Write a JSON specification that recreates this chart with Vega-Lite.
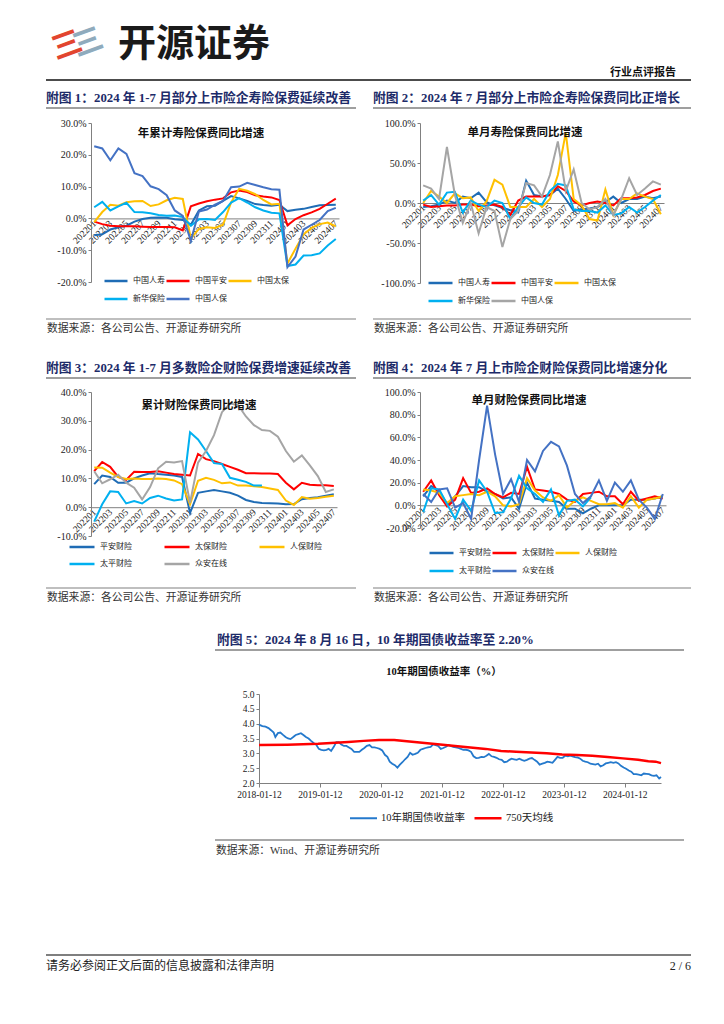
{
"$schema": "https://vega.github.io/schema/vega-lite/v6.json",
"padding": {"left": 45, "top": 20, "right": 0, "bottom": 0},
"background": "white",
"columns": 2,
"spacing": {"row": 0, "column": 81},
"align": "each",
"bounds": "flush",
"resolve": {"scale": {"color": "independent", "strokeWidth": "independent", "x": "independent", "y": "independent"}, "legend": {"color": "independent", "strokeWidth": "independent"}},
"config": {"view": {"stroke": null}, "axis": {"grid": false}},
"datasets": {
"life_cum": [
{"month":"202201","company":"中国人寿","value":-5.3},{"month":"202202","company":"中国人寿","value":-5.0},{"month":"202203","company":"中国人寿","value":-3.5},{"month":"202204","company":"中国人寿","value":-2.8},{"month":"202205","company":"中国人寿","value":-2.3},{"month":"202206","company":"中国人寿","value":-1.0},{"month":"202207","company":"中国人寿","value":-0.2},{"month":"202208","company":"中国人寿","value":0.2},{"month":"202209","company":"中国人寿","value":0.3},{"month":"202210","company":"中国人寿","value":0.2},{"month":"202211","company":"中国人寿","value":-0.3},{"month":"202212","company":"中国人寿","value":-0.5},{"month":"202301","company":"中国人寿","value":-2.0},{"month":"202302","company":"中国人寿","value":2.5},{"month":"202303","company":"中国人寿","value":3.8},{"month":"202304","company":"中国人寿","value":4.0},{"month":"202305","company":"中国人寿","value":5.5},{"month":"202306","company":"中国人寿","value":7.0},{"month":"202307","company":"中国人寿","value":6.3},{"month":"202308","company":"中国人寿","value":5.5},{"month":"202309","company":"中国人寿","value":4.5},{"month":"202310","company":"中国人寿","value":4.2},{"month":"202311","company":"中国人寿","value":4.0},{"month":"202312","company":"中国人寿","value":4.3},{"month":"202401","company":"中国人寿","value":2.3},{"month":"202402","company":"中国人寿","value":2.7},{"month":"202403","company":"中国人寿","value":3.0},{"month":"202404","company":"中国人寿","value":3.6},{"month":"202405","company":"中国人寿","value":4.1},{"month":"202406","company":"中国人寿","value":4.2},{"month":"202407","company":"中国人寿","value":4.3},
{"month":"202201","company":"中国平安","value":-1.0},{"month":"202202","company":"中国平安","value":-1.8},{"month":"202203","company":"中国平安","value":-2.3},{"month":"202204","company":"中国平安","value":-2.5},{"month":"202205","company":"中国平安","value":-2.5},{"month":"202206","company":"中国平安","value":-2.5},{"month":"202207","company":"中国平安","value":-2.6},{"month":"202208","company":"中国平安","value":-2.7},{"month":"202209","company":"中国平安","value":-2.7},{"month":"202210","company":"中国平安","value":-2.7},{"month":"202211","company":"中国平安","value":-2.8},{"month":"202212","company":"中国平安","value":-3.8},{"month":"202301","company":"中国平安","value":3.8},{"month":"202302","company":"中国平安","value":4.7},{"month":"202303","company":"中国平安","value":5.4},{"month":"202304","company":"中国平安","value":5.9},{"month":"202305","company":"中国平安","value":6.3},{"month":"202306","company":"中国平安","value":8.2},{"month":"202307","company":"中国平安","value":8.8},{"month":"202308","company":"中国平安","value":8.3},{"month":"202309","company":"中国平安","value":7.3},{"month":"202310","company":"中国平安","value":6.9},{"month":"202311","company":"中国平安","value":6.6},{"month":"202312","company":"中国平安","value":5.8},{"month":"202401","company":"中国平安","value":-2.2},{"month":"202402","company":"中国平安","value":-0.2},{"month":"202403","company":"中国平安","value":1.0},{"month":"202404","company":"中国平安","value":1.9},{"month":"202405","company":"中国平安","value":3.0},{"month":"202406","company":"中国平安","value":4.6},{"month":"202407","company":"中国平安","value":6.2},
{"month":"202201","company":"中国太保","value":-1.2},{"month":"202202","company":"中国太保","value":2.0},{"month":"202203","company":"中国太保","value":4.3},{"month":"202204","company":"中国太保","value":4.0},{"month":"202205","company":"中国太保","value":5.1},{"month":"202206","company":"中国太保","value":5.4},{"month":"202207","company":"中国太保","value":5.5},{"month":"202208","company":"中国太保","value":3.9},{"month":"202209","company":"中国太保","value":4.4},{"month":"202210","company":"中国太保","value":5.7},{"month":"202211","company":"中国太保","value":6.5},{"month":"202212","company":"中国太保","value":6.1},{"month":"202301","company":"中国太保","value":-6.3},{"month":"202302","company":"中国太保","value":-3.3},{"month":"202303","company":"中国太保","value":-2.8},{"month":"202304","company":"中国太保","value":-3.0},{"month":"202305","company":"中国太保","value":-2.0},{"month":"202306","company":"中国太保","value":5.0},{"month":"202307","company":"中国太保","value":9.3},{"month":"202308","company":"中国太保","value":8.7},{"month":"202309","company":"中国太保","value":7.6},{"month":"202310","company":"中国太保","value":5.8},{"month":"202311","company":"中国太保","value":4.4},{"month":"202312","company":"中国太保","value":4.6},{"month":"202401","company":"中国太保","value":-14.2},{"month":"202402","company":"中国太保","value":-9.5},{"month":"202403","company":"中国太保","value":-5.0},{"month":"202404","company":"中国太保","value":-3.0},{"month":"202405","company":"中国太保","value":-1.8},{"month":"202406","company":"中国太保","value":-1.3},{"month":"202407","company":"中国太保","value":-2.5},
{"month":"202201","company":"新华保险","value":3.5},{"month":"202202","company":"新华保险","value":5.2},{"month":"202203","company":"新华保险","value":2.5},{"month":"202204","company":"新华保险","value":3.8},{"month":"202205","company":"新华保险","value":4.9},{"month":"202206","company":"新华保险","value":2.0},{"month":"202207","company":"新华保险","value":1.9},{"month":"202208","company":"新华保险","value":1.6},{"month":"202209","company":"新华保险","value":1.1},{"month":"202210","company":"新华保险","value":0.8},{"month":"202211","company":"新华保险","value":0.9},{"month":"202212","company":"新华保险","value":0.4},{"month":"202301","company":"新华保险","value":-2.3},{"month":"202302","company":"新华保险","value":-0.3},{"month":"202303","company":"新华保险","value":-0.2},{"month":"202304","company":"新华保险","value":-0.5},{"month":"202305","company":"新华保险","value":2.0},{"month":"202306","company":"新华保险","value":5.0},{"month":"202307","company":"新华保险","value":6.4},{"month":"202308","company":"新华保险","value":5.0},{"month":"202309","company":"新华保险","value":3.5},{"month":"202310","company":"新华保险","value":2.5},{"month":"202311","company":"新华保险","value":1.8},{"month":"202312","company":"新华保险","value":1.6},{"month":"202401","company":"新华保险","value":-15.0},{"month":"202402","company":"新华保险","value":-14.5},{"month":"202403","company":"新华保险","value":-11.7},{"month":"202404","company":"新华保险","value":-11.6},{"month":"202405","company":"新华保险","value":-11.0},{"month":"202406","company":"新华保险","value":-8.5},{"month":"202407","company":"新华保险","value":-6.5},
{"month":"202201","company":"中国人保","value":22.7},{"month":"202202","company":"中国人保","value":22.0},{"month":"202203","company":"中国人保","value":18.3},{"month":"202204","company":"中国人保","value":22.0},{"month":"202205","company":"中国人保","value":20.3},{"month":"202206","company":"中国人保","value":14.2},{"month":"202207","company":"中国人保","value":13.3},{"month":"202208","company":"中国人保","value":10.1},{"month":"202209","company":"中国人保","value":9.2},{"month":"202210","company":"中国人保","value":7.3},{"month":"202211","company":"中国人保","value":2.5},{"month":"202212","company":"中国人保","value":0.8},{"month":"202301","company":"中国人保","value":-7.0},{"month":"202302","company":"中国人保","value":2.2},{"month":"202303","company":"中国人保","value":2.8},{"month":"202304","company":"中国人保","value":4.3},{"month":"202305","company":"中国人保","value":5.5},{"month":"202306","company":"中国人保","value":9.8},{"month":"202307","company":"中国人保","value":10.0},{"month":"202308","company":"中国人保","value":11.2},{"month":"202309","company":"中国人保","value":10.5},{"month":"202310","company":"中国人保","value":9.8},{"month":"202311","company":"中国人保","value":9.2},{"month":"202312","company":"中国人保","value":9.0},{"month":"202401","company":"中国人保","value":-15.3},{"month":"202402","company":"中国人保","value":-12.0},{"month":"202403","company":"中国人保","value":-3.5},{"month":"202404","company":"中国人保","value":-2.0},{"month":"202405","company":"中国人保","value":-0.5},{"month":"202406","company":"中国人保","value":2.3},{"month":"202407","company":"中国人保","value":3.3}
],
"life_mon": [
{"month":"202201","company":"中国人寿","value":-5},{"month":"202202","company":"中国人寿","value":-4},{"month":"202203","company":"中国人寿","value":-2},{"month":"202204","company":"中国人寿","value":3},{"month":"202205","company":"中国人寿","value":0},{"month":"202206","company":"中国人寿","value":8},{"month":"202207","company":"中国人寿","value":6},{"month":"202208","company":"中国人寿","value":13},{"month":"202209","company":"中国人寿","value":1},{"month":"202210","company":"中国人寿","value":-3},{"month":"202211","company":"中国人寿","value":-6},{"month":"202212","company":"中国人寿","value":-9},{"month":"202301","company":"中国人寿","value":-12},{"month":"202302","company":"中国人寿","value":28},{"month":"202303","company":"中国人寿","value":10},{"month":"202304","company":"中国人寿","value":8},{"month":"202305","company":"中国人寿","value":10},{"month":"202306","company":"中国人寿","value":18},{"month":"202307","company":"中国人寿","value":5},{"month":"202308","company":"中国人寿","value":-10},{"month":"202309","company":"中国人寿","value":-8},{"month":"202310","company":"中国人寿","value":-7},{"month":"202311","company":"中国人寿","value":-5},{"month":"202312","company":"中国人寿","value":1},{"month":"202401","company":"中国人寿","value":8},{"month":"202402","company":"中国人寿","value":0},{"month":"202403","company":"中国人寿","value":5},{"month":"202404","company":"中国人寿","value":5},{"month":"202405","company":"中国人寿","value":8},{"month":"202406","company":"中国人寿","value":6},{"month":"202407","company":"中国人寿","value":8},
{"month":"202201","company":"中国平安","value":-2},{"month":"202202","company":"中国平安","value":-5},{"month":"202203","company":"中国平安","value":-4},{"month":"202204","company":"中国平安","value":-3},{"month":"202205","company":"中国平安","value":-3},{"month":"202206","company":"中国平安","value":-2},{"month":"202207","company":"中国平安","value":-2},{"month":"202208","company":"中国平安","value":-4},{"month":"202209","company":"中国平安","value":-3},{"month":"202210","company":"中国平安","value":-2},{"month":"202211","company":"中国平安","value":-5},{"month":"202212","company":"中国平安","value":-15},{"month":"202301","company":"中国平安","value":3},{"month":"202302","company":"中国平安","value":8},{"month":"202303","company":"中国平安","value":8},{"month":"202304","company":"中国平安","value":8},{"month":"202305","company":"中国平安","value":10},{"month":"202306","company":"中国平安","value":21},{"month":"202307","company":"中国平安","value":15},{"month":"202308","company":"中国平安","value":2},{"month":"202309","company":"中国平安","value":-3},{"month":"202310","company":"中国平安","value":0},{"month":"202311","company":"中国平安","value":2},{"month":"202312","company":"中国平安","value":0},{"month":"202401","company":"中国平安","value":-3},{"month":"202402","company":"中国平安","value":6},{"month":"202403","company":"中国平安","value":6},{"month":"202404","company":"中国平安","value":7},{"month":"202405","company":"中国平安","value":10},{"month":"202406","company":"中国平安","value":15},{"month":"202407","company":"中国平安","value":18},
{"month":"202201","company":"中国太保","value":0},{"month":"202202","company":"中国太保","value":15},{"month":"202203","company":"中国太保","value":8},{"month":"202204","company":"中国太保","value":0},{"month":"202205","company":"中国太保","value":12},{"month":"202206","company":"中国太保","value":6},{"month":"202207","company":"中国太保","value":7},{"month":"202208","company":"中国太保","value":-10},{"month":"202209","company":"中国太保","value":2},{"month":"202210","company":"中国太保","value":29},{"month":"202211","company":"中国太保","value":23},{"month":"202212","company":"中国太保","value":-5},{"month":"202301","company":"中国太保","value":-5},{"month":"202302","company":"中国太保","value":-5},{"month":"202303","company":"中国太保","value":5},{"month":"202304","company":"中国太保","value":-5},{"month":"202305","company":"中国太保","value":5},{"month":"202306","company":"中国太保","value":35},{"month":"202307","company":"中国太保","value":88},{"month":"202308","company":"中国太保","value":5},{"month":"202309","company":"中国太保","value":-3},{"month":"202310","company":"中国太保","value":-20},{"month":"202311","company":"中国太保","value":-22},{"month":"202312","company":"中国太保","value":17},{"month":"202401","company":"中国太保","value":-15},{"month":"202402","company":"中国太保","value":5},{"month":"202403","company":"中国太保","value":5},{"month":"202404","company":"中国太保","value":12},{"month":"202405","company":"中国太保","value":8},{"month":"202406","company":"中国太保","value":5},{"month":"202407","company":"中国太保","value":-14},
{"month":"202201","company":"新华保险","value":3},{"month":"202202","company":"新华保险","value":10},{"month":"202203","company":"新华保险","value":-2},{"month":"202204","company":"新华保险","value":13},{"month":"202205","company":"新华保险","value":14},{"month":"202206","company":"新华保险","value":-12},{"month":"202207","company":"新华保险","value":3},{"month":"202208","company":"新华保险","value":-2},{"month":"202209","company":"新华保险","value":-5},{"month":"202210","company":"新华保险","value":3},{"month":"202211","company":"新华保险","value":0},{"month":"202212","company":"新华保险","value":-20},{"month":"202301","company":"新华保险","value":-5},{"month":"202302","company":"新华保险","value":7},{"month":"202303","company":"新华保险","value":0},{"month":"202304","company":"新华保险","value":-2},{"month":"202305","company":"新华保险","value":15},{"month":"202306","company":"新华保险","value":24},{"month":"202307","company":"新华保险","value":22},{"month":"202308","company":"新华保险","value":-8},{"month":"202309","company":"新华保险","value":-10},{"month":"202310","company":"新华保险","value":-10},{"month":"202311","company":"新华保险","value":-12},{"month":"202312","company":"新华保险","value":-3},{"month":"202401","company":"新华保险","value":-15},{"month":"202402","company":"新华保险","value":-13},{"month":"202403","company":"新华保险","value":-5},{"month":"202404","company":"新华保险","value":-12},{"month":"202405","company":"新华保险","value":-5},{"month":"202406","company":"新华保险","value":3},{"month":"202407","company":"新华保险","value":10},
{"month":"202201","company":"中国人保","value":22},{"month":"202202","company":"中国人保","value":18},{"month":"202203","company":"中国人保","value":5},{"month":"202204","company":"中国人保","value":70},{"month":"202205","company":"中国人保","value":10},{"month":"202206","company":"中国人保","value":-25},{"month":"202207","company":"中国人保","value":0},{"month":"202208","company":"中国人保","value":-38},{"month":"202209","company":"中国人保","value":-5},{"month":"202210","company":"中国人保","value":-10},{"month":"202211","company":"中国人保","value":-55},{"month":"202212","company":"中国人保","value":-20},{"month":"202301","company":"中国人保","value":-10},{"month":"202302","company":"中国人保","value":25},{"month":"202303","company":"中国人保","value":22},{"month":"202304","company":"中国人保","value":8},{"month":"202305","company":"中国人保","value":35},{"month":"202306","company":"中国人保","value":77},{"month":"202307","company":"中国人保","value":15},{"month":"202308","company":"中国人保","value":42},{"month":"202309","company":"中国人保","value":0},{"month":"202310","company":"中国人保","value":-8},{"month":"202311","company":"中国人保","value":-5},{"month":"202312","company":"中国人保","value":5},{"month":"202401","company":"中国人保","value":-15},{"month":"202402","company":"中国人保","value":5},{"month":"202403","company":"中国人保","value":31},{"month":"202404","company":"中国人保","value":10},{"month":"202405","company":"中国人保","value":18},{"month":"202406","company":"中国人保","value":27},{"month":"202407","company":"中国人保","value":23}
],
"pc_cum": [
{"month":"202201","company":"平安财险","value":8},{"month":"202202","company":"平安财险","value":11},{"month":"202203","company":"平安财险","value":10.5},{"month":"202204","company":"平安财险","value":8.5},{"month":"202205","company":"平安财险","value":8.5},{"month":"202206","company":"平安财险","value":10},{"month":"202207","company":"平安财险","value":11},{"month":"202208","company":"平安财险","value":11.8},{"month":"202209","company":"平安财险","value":11.5},{"month":"202210","company":"平安财险","value":11.3},{"month":"202211","company":"平安财险","value":11},{"month":"202212","company":"平安财险","value":10.5},{"month":"202301","company":"平安财险","value":-2},{"month":"202302","company":"平安财险","value":5},{"month":"202303","company":"平安财险","value":5.5},{"month":"202304","company":"平安财险","value":6},{"month":"202305","company":"平安财险","value":5.5},{"month":"202306","company":"平安财险","value":5},{"month":"202307","company":"平安财险","value":4},{"month":"202308","company":"平安财险","value":2.5},{"month":"202309","company":"平安财险","value":1.8},{"month":"202310","company":"平安财险","value":1.5},{"month":"202311","company":"平安财险","value":1.4},{"month":"202312","company":"平安财险","value":1.3},{"month":"202401","company":"平安财险","value":1.0},{"month":"202402","company":"平安财险","value":1.1},{"month":"202403","company":"平安财险","value":2.8},{"month":"202404","company":"平安财险","value":3.2},{"month":"202405","company":"平安财险","value":3.5},{"month":"202406","company":"平安财险","value":4.0},{"month":"202407","company":"平安财险","value":4.5},
{"month":"202201","company":"太保财险","value":12.5},{"month":"202202","company":"太保财险","value":15.7},{"month":"202203","company":"太保财险","value":14},{"month":"202204","company":"太保财险","value":10.5},{"month":"202205","company":"太保财险","value":9.5},{"month":"202206","company":"太保财险","value":12.3},{"month":"202207","company":"太保财险","value":12.2},{"month":"202208","company":"太保财险","value":12.2},{"month":"202209","company":"太保财险","value":12.5},{"month":"202210","company":"太保财险","value":12},{"month":"202211","company":"太保财险","value":11.5},{"month":"202212","company":"太保财险","value":11.3},{"month":"202301","company":"太保财险","value":11.0},{"month":"202302","company":"太保财险","value":18.5},{"month":"202303","company":"太保财险","value":16.7},{"month":"202304","company":"太保财险","value":16},{"month":"202305","company":"太保财险","value":15},{"month":"202306","company":"太保财险","value":14},{"month":"202307","company":"太保财险","value":13},{"month":"202308","company":"太保财险","value":11.8},{"month":"202309","company":"太保财险","value":11.8},{"month":"202310","company":"太保财险","value":11.7},{"month":"202311","company":"太保财险","value":11.7},{"month":"202312","company":"太保财险","value":11.5},{"month":"202401","company":"太保财险","value":8.5},{"month":"202402","company":"太保财险","value":6.2},{"month":"202403","company":"太保财险","value":8.5},{"month":"202404","company":"太保财险","value":7.8},{"month":"202405","company":"太保财险","value":7.6},{"month":"202406","company":"太保财险","value":7.6},{"month":"202407","company":"太保财险","value":7.4},
{"month":"202201","company":"人保财险","value":13.8},{"month":"202202","company":"人保财险","value":13.7},{"month":"202203","company":"人保财险","value":12},{"month":"202204","company":"人保财险","value":10.5},{"month":"202205","company":"人保财险","value":9.8},{"month":"202206","company":"人保财险","value":10},{"month":"202207","company":"人保财险","value":9.8},{"month":"202208","company":"人保财险","value":9.8},{"month":"202209","company":"人保财险","value":10},{"month":"202210","company":"人保财险","value":9.8},{"month":"202211","company":"人保财险","value":9.3},{"month":"202212","company":"人保财险","value":8},{"month":"202301","company":"人保财险","value":1.0},{"month":"202302","company":"人保财险","value":9.2},{"month":"202303","company":"人保财险","value":10.2},{"month":"202304","company":"人保财险","value":9.5},{"month":"202305","company":"人保财险","value":8.3},{"month":"202306","company":"人保财险","value":8.6},{"month":"202307","company":"人保财险","value":7.5},{"month":"202308","company":"人保财险","value":7.5},{"month":"202309","company":"人保财险","value":7.3},{"month":"202310","company":"人保财险","value":7.0},{"month":"202311","company":"人保财险","value":6.5},{"month":"202312","company":"人保财险","value":6.0},{"month":"202401","company":"人保财险","value":2.3},{"month":"202402","company":"人保财险","value":0.8},{"month":"202403","company":"人保财险","value":3.5},{"month":"202404","company":"人保财险","value":2.9},{"month":"202405","company":"人保财险","value":3.2},{"month":"202406","company":"人保财险","value":3.6},{"month":"202407","company":"人保财险","value":4.0},
{"month":"202201","company":"太平财险","value":-5},{"month":"202202","company":"太平财险","value":1},{"month":"202203","company":"太平财险","value":5.5},{"month":"202204","company":"太平财险","value":5.3},{"month":"202205","company":"太平财险","value":1.3},{"month":"202206","company":"太平财险","value":2.1},{"month":"202207","company":"太平财险","value":1.3},{"month":"202208","company":"太平财险","value":3.2},{"month":"202209","company":"太平财险","value":4.0},{"month":"202210","company":"太平财险","value":3.0},{"month":"202211","company":"太平财险","value":2.3},{"month":"202212","company":"太平财险","value":2.7},{"month":"202301","company":"太平财险","value":26},{"month":"202302","company":"太平财险","value":23.5},{"month":"202303","company":"太平财险","value":19.5},{"month":"202304","company":"太平财险","value":15.3},{"month":"202305","company":"太平财险","value":15.0},{"month":"202306","company":"太平财险","value":10.2},{"month":"202307","company":"太平财险","value":9.5},{"month":"202308","company":"太平财险","value":8.8},{"month":"202309","company":"太平财险","value":7.5},{"month":"202310","company":"太平财险","value":7.5},
{"month":"202201","company":"众安在线","value":12.5},{"month":"202202","company":"众安在线","value":8.3},{"month":"202203","company":"众安在线","value":9.7},{"month":"202204","company":"众安在线","value":11.3},{"month":"202205","company":"众安在线","value":8.5},{"month":"202206","company":"众安在线","value":6.8},{"month":"202207","company":"众安在线","value":2.7},{"month":"202208","company":"众安在线","value":7},{"month":"202209","company":"众安在线","value":13.5},{"month":"202210","company":"众安在线","value":15.8},{"month":"202211","company":"众安在线","value":15.5},{"month":"202212","company":"众安在线","value":16},{"month":"202301","company":"众安在线","value":1.5},{"month":"202302","company":"众安在线","value":15.5},{"month":"202303","company":"众安在线","value":19.5},{"month":"202304","company":"众安在线","value":25},{"month":"202305","company":"众安在线","value":33},{"month":"202306","company":"众安在线","value":36},{"month":"202307","company":"众安在线","value":35.5},{"month":"202308","company":"众安在线","value":31.5},{"month":"202309","company":"众安在线","value":28.5},{"month":"202310","company":"众安在线","value":26.8},{"month":"202311","company":"众安在线","value":26.5},{"month":"202312","company":"众安在线","value":24.5},{"month":"202401","company":"众安在线","value":19.5},{"month":"202402","company":"众安在线","value":15.8},{"month":"202403","company":"众安在线","value":18},{"month":"202404","company":"众安在线","value":14.5},{"month":"202405","company":"众安在线","value":10.8},{"month":"202406","company":"众安在线","value":5.3},{"month":"202407","company":"众安在线","value":6.2}
],
"pc_mon": [
{"month":"202201","company":"平安财险","value":8},{"month":"202202","company":"平安财险","value":17},{"month":"202203","company":"平安财险","value":13},{"month":"202204","company":"平安财险","value":0},{"month":"202205","company":"平安财险","value":8},{"month":"202206","company":"平安财险","value":17},{"month":"202207","company":"平安财险","value":16},{"month":"202208","company":"平安财险","value":16},{"month":"202209","company":"平安财险","value":12},{"month":"202210","company":"平安财险","value":10},{"month":"202211","company":"平安财险","value":6},{"month":"202212","company":"平安财险","value":7},{"month":"202301","company":"平安财险","value":-3},{"month":"202302","company":"平安财险","value":20},{"month":"202303","company":"平安财险","value":6},{"month":"202304","company":"平安财险","value":5},{"month":"202305","company":"平安财险","value":4},{"month":"202306","company":"平安财险","value":3},{"month":"202307","company":"平安财险","value":-3},{"month":"202308","company":"平安财险","value":-3},{"month":"202309","company":"平安财险","value":-7},{"month":"202310","company":"平安财险","value":-3},{"month":"202311","company":"平安财险","value":0},{"month":"202312","company":"平安财险","value":0},{"month":"202401","company":"平安财险","value":0},{"month":"202402","company":"平安财险","value":0},{"month":"202403","company":"平安财险","value":5},{"month":"202404","company":"平安财险","value":5},{"month":"202405","company":"平安财险","value":5},{"month":"202406","company":"平安财险","value":6},{"month":"202407","company":"平安财险","value":8},
{"month":"202201","company":"太保财险","value":12},{"month":"202202","company":"太保财险","value":22},{"month":"202203","company":"太保财险","value":9},{"month":"202204","company":"太保财险","value":-1},{"month":"202205","company":"太保财险","value":5},{"month":"202206","company":"太保财险","value":24},{"month":"202207","company":"太保财险","value":11},{"month":"202208","company":"太保财险","value":12},{"month":"202209","company":"太保财险","value":15},{"month":"202210","company":"太保财险","value":10},{"month":"202211","company":"太保财险","value":7},{"month":"202212","company":"太保财险","value":11},{"month":"202301","company":"太保财险","value":10},{"month":"202302","company":"太保财险","value":34},{"month":"202303","company":"太保财险","value":14},{"month":"202304","company":"太保财险","value":13},{"month":"202305","company":"太保财险","value":12},{"month":"202306","company":"太保财险","value":10},{"month":"202307","company":"太保财险","value":5},{"month":"202308","company":"太保财险","value":3},{"month":"202309","company":"太保财险","value":10},{"month":"202310","company":"太保财险","value":11},{"month":"202311","company":"太保财险","value":12},{"month":"202312","company":"太保财险","value":8},{"month":"202401","company":"太保财险","value":8},{"month":"202402","company":"太保财险","value":1},{"month":"202403","company":"太保财险","value":12},{"month":"202404","company":"太保财险","value":4},{"month":"202405","company":"太保财险","value":6},{"month":"202406","company":"太保财险","value":8},{"month":"202407","company":"太保财险","value":6},
{"month":"202201","company":"人保财险","value":14},{"month":"202202","company":"人保财险","value":13},{"month":"202203","company":"人保财险","value":11},{"month":"202204","company":"人保财险","value":2},{"month":"202205","company":"人保财险","value":8},{"month":"202206","company":"人保财险","value":9},{"month":"202207","company":"人保财险","value":10},{"month":"202208","company":"人保财险","value":9},{"month":"202209","company":"人保财险","value":12},{"month":"202210","company":"人保财险","value":8},{"month":"202211","company":"人保财险","value":0},{"month":"202212","company":"人保财险","value":-1},{"month":"202301","company":"人保财险","value":1},{"month":"202302","company":"人保财险","value":24},{"month":"202303","company":"人保财险","value":13},{"month":"202304","company":"人保财险","value":7},{"month":"202305","company":"人保财险","value":4},{"month":"202306","company":"人保财险","value":9},{"month":"202307","company":"人保财险","value":-2},{"month":"202308","company":"人保财险","value":4},{"month":"202309","company":"人保财险","value":7},{"month":"202310","company":"人保财险","value":4},{"month":"202311","company":"人保财险","value":1},{"month":"202312","company":"人保财险","value":1},{"month":"202401","company":"人保财险","value":2},{"month":"202402","company":"人保财险","value":-2},{"month":"202403","company":"人保财险","value":8},{"month":"202404","company":"人保财险","value":-2},{"month":"202405","company":"人保财险","value":5},{"month":"202406","company":"人保财险","value":6},{"month":"202407","company":"人保财险","value":8},
{"month":"202201","company":"太平财险","value":-6},{"month":"202202","company":"太平财险","value":15},{"month":"202203","company":"太平财险","value":14},{"month":"202204","company":"太平财险","value":1},{"month":"202205","company":"太平财险","value":-12},{"month":"202206","company":"太平财险","value":5},{"month":"202207","company":"太平财险","value":-5},{"month":"202208","company":"太平财险","value":22},{"month":"202209","company":"太平财险","value":12},{"month":"202210","company":"太平财险","value":-7},{"month":"202211","company":"太平财险","value":-6},{"month":"202212","company":"太平财险","value":6},{"month":"202301","company":"太平财险","value":26},{"month":"202302","company":"太平财险","value":15},{"month":"202303","company":"太平财险","value":10},{"month":"202304","company":"太平财险","value":3},{"month":"202305","company":"太平财险","value":14},{"month":"202306","company":"太平财险","value":-9},{"month":"202307","company":"太平财险","value":4},{"month":"202308","company":"太平财险","value":5},{"month":"202309","company":"太平财险","value":-1},{"month":"202310","company":"太平财险","value":7},
{"month":"202201","company":"众安在线","value":10},{"month":"202202","company":"众安在线","value":3},{"month":"202203","company":"众安在线","value":14},{"month":"202204","company":"众安在线","value":15},{"month":"202205","company":"众安在线","value":-2},{"month":"202206","company":"众安在线","value":2},{"month":"202207","company":"众安在线","value":-12},{"month":"202208","company":"众安在线","value":40},{"month":"202209","company":"众安在线","value":88},{"month":"202210","company":"众安在线","value":45},{"month":"202211","company":"众安在线","value":10},{"month":"202212","company":"众安在线","value":23},{"month":"202301","company":"众安在线","value":3},{"month":"202302","company":"众安在线","value":40},{"month":"202303","company":"众安在线","value":30},{"month":"202304","company":"众安在线","value":48},{"month":"202305","company":"众安在线","value":56},{"month":"202306","company":"众安在线","value":52},{"month":"202307","company":"众安在线","value":35},{"month":"202308","company":"众安在线","value":10},{"month":"202309","company":"众安在线","value":2},{"month":"202310","company":"众安在线","value":8},{"month":"202311","company":"众安在线","value":22},{"month":"202312","company":"众安在线","value":4},{"month":"202401","company":"众安在线","value":20},{"month":"202402","company":"众安在线","value":12},{"month":"202403","company":"众安在线","value":22},{"month":"202404","company":"众安在线","value":5},{"month":"202405","company":"众安在线","value":-2},{"month":"202406","company":"众安在线","value":-12},{"month":"202407","company":"众安在线","value":10}
],
"bond": [
{"date":"2018-01-12","series":"10年期国债收益率","value":3.97},{"date":"2018-02-01","series":"10年期国债收益率","value":3.92},{"date":"2018-02-20","series":"10年期国债收益率","value":3.9},{"date":"2018-03-10","series":"10年期国债收益率","value":3.85},{"date":"2018-03-25","series":"10年期国债收益率","value":3.78},{"date":"2018-04-10","series":"10年期国债收益率","value":3.7},{"date":"2018-04-20","series":"10年期国债收益率","value":3.55},{"date":"2018-05-05","series":"10年期国债收益率","value":3.68},{"date":"2018-05-20","series":"10年期国债收益率","value":3.7},{"date":"2018-06-05","series":"10年期国债收益率","value":3.62},{"date":"2018-06-20","series":"10年期国债收益率","value":3.55},{"date":"2018-07-05","series":"10年期国债收益率","value":3.5},{"date":"2018-07-20","series":"10年期国债收益率","value":3.48},{"date":"2018-08-05","series":"10年期国债收益率","value":3.55},{"date":"2018-08-20","series":"10年期国债收益率","value":3.62},{"date":"2018-09-05","series":"10年期国债收益率","value":3.65},{"date":"2018-09-20","series":"10年期国债收益率","value":3.68},{"date":"2018-10-05","series":"10年期国债收益率","value":3.62},{"date":"2018-10-20","series":"10年期国债收益率","value":3.55},{"date":"2018-11-05","series":"10年期国债收益率","value":3.5},{"date":"2018-11-20","series":"10年期国债收益率","value":3.42},{"date":"2018-12-05","series":"10年期国债收益率","value":3.35},{"date":"2018-12-20","series":"10年期国债收益率","value":3.3},{"date":"2019-01-05","series":"10年期国债收益率","value":3.15},{"date":"2019-01-20","series":"10年期国债收益率","value":3.12},{"date":"2019-02-05","series":"10年期国债收益率","value":3.1},{"date":"2019-02-20","series":"10年期国债收益率","value":3.12},{"date":"2019-03-05","series":"10年期国债收益率","value":3.15},{"date":"2019-03-20","series":"10年期国债收益率","value":3.08},{"date":"2019-04-05","series":"10年期国债收益率","value":3.22},{"date":"2019-04-20","series":"10年期国债收益率","value":3.38},{"date":"2019-05-05","series":"10年期国债收益率","value":3.38},{"date":"2019-05-20","series":"10年期国债收益率","value":3.3},{"date":"2019-06-05","series":"10年期国债收益率","value":3.25},{"date":"2019-06-20","series":"10年期国债收益率","value":3.25},{"date":"2019-07-05","series":"10年期国债收益率","value":3.2},{"date":"2019-07-20","series":"10年期国债收益率","value":3.15},{"date":"2019-08-05","series":"10年期国债收益率","value":3.05},{"date":"2019-08-20","series":"10年期国债收益率","value":3.05},{"date":"2019-09-05","series":"10年期国债收益率","value":3.05},{"date":"2019-09-20","series":"10年期国债收益率","value":3.12},{"date":"2019-10-05","series":"10年期国债收益率","value":3.18},{"date":"2019-10-20","series":"10年期国债收益率","value":3.25},{"date":"2019-11-05","series":"10年期国债收益率","value":3.28},{"date":"2019-11-20","series":"10年期国债收益率","value":3.2},{"date":"2019-12-05","series":"10年期国债收益率","value":3.2},{"date":"2019-12-20","series":"10年期国债收益率","value":3.18},{"date":"2020-01-05","series":"10年期国债收益率","value":3.15},{"date":"2020-01-20","series":"10年期国债收益率","value":3.1},{"date":"2020-02-05","series":"10年期国债收益率","value":2.95},{"date":"2020-02-20","series":"10年期国债收益率","value":2.88},{"date":"2020-03-05","series":"10年期国债收益率","value":2.72},{"date":"2020-03-20","series":"10年期国债收益率","value":2.65},{"date":"2020-04-05","series":"10年期国债收益率","value":2.6},{"date":"2020-04-20","series":"10年期国债收益率","value":2.52},{"date":"2020-05-05","series":"10年期国债收益率","value":2.62},{"date":"2020-05-20","series":"10年期国债收益率","value":2.7},{"date":"2020-06-05","series":"10年期国债收益率","value":2.8},{"date":"2020-06-20","series":"10年期国债收益率","value":2.88},{"date":"2020-07-05","series":"10年期国债收益率","value":3.02},{"date":"2020-07-20","series":"10年期国债收益率","value":2.95},{"date":"2020-08-05","series":"10年期国债收益率","value":2.98},{"date":"2020-08-20","series":"10年期国债收益率","value":3.02},{"date":"2020-09-05","series":"10年期国债收益率","value":3.12},{"date":"2020-09-20","series":"10年期国债收益率","value":3.15},{"date":"2020-10-05","series":"10年期国债收益率","value":3.18},{"date":"2020-10-20","series":"10年期国债收益率","value":3.2},{"date":"2020-11-05","series":"10年期国债收益率","value":3.22},{"date":"2020-11-20","series":"10年期国债收益率","value":3.3},{"date":"2020-12-05","series":"10年期国债收益率","value":3.28},{"date":"2020-12-20","series":"10年期国债收益率","value":3.25},{"date":"2021-01-05","series":"10年期国债收益率","value":3.15},{"date":"2021-01-20","series":"10年期国债收益率","value":3.18},{"date":"2021-02-05","series":"10年期国债收益率","value":3.22},{"date":"2021-02-20","series":"10年期国债收益率","value":3.28},{"date":"2021-03-05","series":"10年期国债收益率","value":3.25},{"date":"2021-03-20","series":"10年期国债收益率","value":3.22},{"date":"2021-04-05","series":"10年期国债收益率","value":3.2},{"date":"2021-04-20","series":"10年期国债收益率","value":3.18},{"date":"2021-05-05","series":"10年期国债收益率","value":3.15},{"date":"2021-05-20","series":"10年期国债收益率","value":3.12},{"date":"2021-06-05","series":"10年期国债收益率","value":3.12},{"date":"2021-06-20","series":"10年期国债收益率","value":3.1},{"date":"2021-07-05","series":"10年期国债收益率","value":3.05},{"date":"2021-07-20","series":"10年期国债收益率","value":2.9},{"date":"2021-08-05","series":"10年期国债收益率","value":2.84},{"date":"2021-08-20","series":"10年期国债收益率","value":2.85},{"date":"2021-09-05","series":"10年期国债收益率","value":2.88},{"date":"2021-09-20","series":"10年期国债收益率","value":2.87},{"date":"2021-10-05","series":"10年期国债收益率","value":2.92},{"date":"2021-10-20","series":"10年期国债收益率","value":2.98},{"date":"2021-11-05","series":"10年期国债收益率","value":2.9},{"date":"2021-11-20","series":"10年期国债收益率","value":2.88},{"date":"2021-12-05","series":"10年期国债收益率","value":2.85},{"date":"2021-12-20","series":"10年期国债收益率","value":2.8},{"date":"2022-01-05","series":"10年期国债收益率","value":2.78},{"date":"2022-01-20","series":"10年期国债收益率","value":2.7},{"date":"2022-02-05","series":"10年期国债收益率","value":2.72},{"date":"2022-02-20","series":"10年期国债收益率","value":2.78},{"date":"2022-03-05","series":"10年期国债收益率","value":2.82},{"date":"2022-03-20","series":"10年期国债收益率","value":2.8},{"date":"2022-04-05","series":"10年期国债收益率","value":2.78},{"date":"2022-04-20","series":"10年期国债收益率","value":2.82},{"date":"2022-05-05","series":"10年期国债收益率","value":2.78},{"date":"2022-05-20","series":"10年期国债收益率","value":2.75},{"date":"2022-06-05","series":"10年期国债收益率","value":2.78},{"date":"2022-06-20","series":"10年期国债收益率","value":2.82},{"date":"2022-07-05","series":"10年期国债收益率","value":2.84},{"date":"2022-07-20","series":"10年期国债收益率","value":2.78},{"date":"2022-08-05","series":"10年期国债收益率","value":2.72},{"date":"2022-08-20","series":"10年期国债收益率","value":2.62},{"date":"2022-09-05","series":"10年期国债收益率","value":2.65},{"date":"2022-09-20","series":"10年期国债收益率","value":2.68},{"date":"2022-10-05","series":"10年期国债收益率","value":2.72},{"date":"2022-10-20","series":"10年期国债收益率","value":2.7},{"date":"2022-11-05","series":"10年期国债收益率","value":2.68},{"date":"2022-11-20","series":"10年期国债收益率","value":2.78},{"date":"2022-12-05","series":"10年期国债收益率","value":2.88},{"date":"2022-12-20","series":"10年期国债收益率","value":2.85},{"date":"2023-01-05","series":"10年期国债收益率","value":2.85},{"date":"2023-01-20","series":"10年期国债收益率","value":2.92},{"date":"2023-02-05","series":"10年期国债收益率","value":2.9},{"date":"2023-02-20","series":"10年期国债收益率","value":2.92},{"date":"2023-03-05","series":"10年期国债收益率","value":2.9},{"date":"2023-03-20","series":"10年期国债收益率","value":2.87},{"date":"2023-04-05","series":"10年期国债收益率","value":2.86},{"date":"2023-04-20","series":"10年期国债收益率","value":2.82},{"date":"2023-05-05","series":"10年期国债收益率","value":2.75},{"date":"2023-05-20","series":"10年期国债收益率","value":2.72},{"date":"2023-06-05","series":"10年期国债收益率","value":2.7},{"date":"2023-06-20","series":"10年期国债收益率","value":2.65},{"date":"2023-07-05","series":"10年期国债收益率","value":2.64},{"date":"2023-07-20","series":"10年期国债收益率","value":2.62},{"date":"2023-08-05","series":"10年期国债收益率","value":2.65},{"date":"2023-08-20","series":"10年期国债收益率","value":2.56},{"date":"2023-09-05","series":"10年期国债收益率","value":2.6},{"date":"2023-09-20","series":"10年期国债收益率","value":2.66},{"date":"2023-10-05","series":"10年期国债收益率","value":2.68},{"date":"2023-10-20","series":"10年期国债收益率","value":2.7},{"date":"2023-11-05","series":"10年期国债收益率","value":2.68},{"date":"2023-11-20","series":"10年期国债收益率","value":2.7},{"date":"2023-12-05","series":"10年期国债收益率","value":2.66},{"date":"2023-12-20","series":"10年期国债收益率","value":2.58},{"date":"2024-01-05","series":"10年期国债收益率","value":2.52},{"date":"2024-01-20","series":"10年期国债收益率","value":2.48},{"date":"2024-02-05","series":"10年期国债收益率","value":2.42},{"date":"2024-02-20","series":"10年期国债收益率","value":2.38},{"date":"2024-03-05","series":"10年期国债收益率","value":2.3},{"date":"2024-03-20","series":"10年期国债收益率","value":2.3},{"date":"2024-04-05","series":"10年期国债收益率","value":2.28},{"date":"2024-04-20","series":"10年期国债收益率","value":2.26},{"date":"2024-05-05","series":"10年期国债收益率","value":2.32},{"date":"2024-05-20","series":"10年期国债收益率","value":2.31},{"date":"2024-06-05","series":"10年期国债收益率","value":2.3},{"date":"2024-06-20","series":"10年期国债收益率","value":2.26},{"date":"2024-07-05","series":"10年期国债收益率","value":2.24},{"date":"2024-07-20","series":"10年期国债收益率","value":2.26},{"date":"2024-08-05","series":"10年期国债收益率","value":2.15},{"date":"2024-08-16","series":"10年期国债收益率","value":2.2},
{"date":"2018-01-12","series":"750天均线","value":3.28},{"date":"2018-07-01","series":"750天均线","value":3.29},{"date":"2019-01-01","series":"750天均线","value":3.32},{"date":"2019-07-01","series":"750天均线","value":3.38},{"date":"2019-10-01","series":"750天均线","value":3.42},{"date":"2020-01-01","series":"750天均线","value":3.45},{"date":"2020-04-01","series":"750天均线","value":3.45},{"date":"2020-07-01","series":"750天均线","value":3.4},{"date":"2020-10-01","series":"750天均线","value":3.35},{"date":"2021-01-01","series":"750天均线","value":3.3},{"date":"2021-04-01","series":"750天均线","value":3.25},{"date":"2021-07-01","series":"750天均线","value":3.2},{"date":"2021-10-01","series":"750天均线","value":3.15},{"date":"2022-01-01","series":"750天均线","value":3.08},{"date":"2022-04-01","series":"750天均线","value":3.05},{"date":"2022-07-01","series":"750天均线","value":3.03},{"date":"2022-10-01","series":"750天均线","value":3.0},{"date":"2023-01-01","series":"750天均线","value":2.96},{"date":"2023-04-01","series":"750天均线","value":2.94},{"date":"2023-07-01","series":"750天均线","value":2.92},{"date":"2023-10-01","series":"750天均线","value":2.88},{"date":"2024-01-01","series":"750天均线","value":2.83},{"date":"2024-04-01","series":"750天均线","value":2.78},{"date":"2024-06-01","series":"750天均线","value":2.73},{"date":"2024-07-15","series":"750天均线","value":2.72},{"date":"2024-08-16","series":"750天均线","value":2.67}
]
},
"concat": [
{
"width": 248, "height": 60, "data": {"values": [{}]},
"layer": [
{"mark": {"type": "text", "text": "三", "font": "Noto Sans CJK SC", "fontSize": 30, "fontWeight": "bold", "color": "#e2452f", "angle": -20, "align": "center", "baseline": "middle"}, "encoding": {"x": {"value": -24}, "y": {"value": 26}}},
{"mark": {"type": "text", "text": "三", "font": "Noto Sans CJK SC", "fontSize": 30, "fontWeight": "bold", "color": "#8fabbd", "angle": -20, "align": "center", "baseline": "middle"}, "encoding": {"x": {"value": -3}, "y": {"value": 23}}},
{"mark": {"type": "text", "text": "开源证券", "font": "Noto Sans CJK SC", "fontSize": 38, "fontWeight": "bold", "color": "#1a1a1a", "align": "left", "baseline": "middle"}, "encoding": {"x": {"value": 27}, "y": {"value": 25}}},
{"mark": {"type": "text", "text": "行业点评报告", "font": "Noto Sans CJK SC", "fontSize": 11, "fontWeight": "bold", "color": "#111111", "align": "right", "baseline": "middle"}, "encoding": {"x": {"value": 585}, "y": {"value": 53}}},
{"mark": {"type": "rule", "color": "#111111", "strokeWidth": 1.5}, "encoding": {"x": {"value": -45}, "x2": {"value": 600}, "y": {"value": 60}}}
]
},
{"width": 10, "height": 10, "data": {"values": []}, "mark": "point"},
{
"width": 248, "height": 43, "data": {"values": [{}]},
"layer": [
{"mark": {"type": "text", "text": "附图 1：2024 年 1-7 月部分上市险企寿险保费延续改善", "font": "Liberation Serif, Noto Sans CJK SC", "fontSize": 12.8, "fontWeight": "bold", "color": "#1d2b69", "align": "left", "baseline": "middle"}, "encoding": {"x": {"value": -45}, "y": {"value": 18}}},
{"mark": {"type": "rule", "color": "#7f7f7f", "strokeWidth": 1.5}, "encoding": {"x": {"value": -45}, "x2": {"value": 265}, "y": {"value": 28}}}
]
},
{
"width": 244, "height": 43, "data": {"values": [{}]},
"layer": [
{"mark": {"type": "text", "text": "附图 2：2024 年 7 月部分上市险企寿险保费同比正增长", "font": "Liberation Serif, Noto Sans CJK SC", "fontSize": 12.8, "fontWeight": "bold", "color": "#1d2b69", "align": "left", "baseline": "middle"}, "encoding": {"x": {"value": -47}, "y": {"value": 18}}},
{"mark": {"type": "rule", "color": "#7f7f7f", "strokeWidth": 1.5}, "encoding": {"x": {"value": -47}, "x2": {"value": 271}, "y": {"value": 28}}}
]
},
{
"width": 248, "height": 159,
"data": {"name": "life_cum"},
"title": {"text": "年累计寿险保费同比增速", "anchor": "middle", "frame": "group", "offset": 0, "dx": -14, "dy": 21, "font": "Noto Sans CJK SC", "fontSize": 11.5, "fontWeight": "bold", "color": "#111111"},
"mark": {"type": "line", "strokeWidth": 2},
"encoding": {
"x": {"field": "month", "type": "ordinal", "scale": {"type": "point", "padding": 0.4}, "axis": {"values": ["202201","202203","202205","202207","202209","202211","202301","202303","202305","202307","202309","202311","202401","202403","202405","202407"], "title": null, "offset": -63.6, "labelAngle": -45, "labelAlign": "right", "labelBaseline": "middle", "labelPadding": 3, "ticks": false, "labelFont": "Liberation Serif", "labelFontSize": 9.5, "labelColor": "#222222", "labelOverlap": false, "domainColor": "#808080"}},
"y": {"field": "value", "type": "quantitative", "scale": {"domain": [-20, 30], "nice": false, "zero": false}, "axis": {"values": [-20, -10, 0, 10, 20, 30], "labelExpr": "(datum.value<0?'-':'')+format(abs(datum.value),'.1f')+'%'", "title": null, "tickSize": 3, "labelPadding": 2, "labelFont": "Liberation Serif", "labelFontSize": 10, "labelColor": "#222222", "domainColor": "#808080", "tickColor": "#808080", "grid": false}},
"color": {"field": "company", "type": "nominal", "scale": {"domain": ["中国人寿","中国平安","中国太保","新华保险","中国人保"], "range": ["#1f6cb5","#ff0000","#ffc000","#00b0f0","#4472c4"]}, "legend": {"orient": "none", "legendX": 12, "legendY": 153, "direction": "horizontal", "columns": 3, "title": null, "symbolType": "stroke", "symbolSize": 529, "symbolStrokeWidth": 2.5, "clipHeight": 10, "labelFont": "Noto Sans CJK SC", "labelFontSize": 8, "labelColor": "#222222", "labelOffset": 4, "columnPadding": 0, "rowPadding": 8, "padding": 0}}
}
},
{
"width": 244, "height": 160,
"data": {"name": "life_mon"},
"title": {"text": "单月寿险保费同比增速", "anchor": "middle", "frame": "group", "offset": 0, "dx": -17, "dy": 20, "font": "Noto Sans CJK SC", "fontSize": 11.5, "fontWeight": "bold", "color": "#111111"},
"mark": {"type": "line", "strokeWidth": 2},
"encoding": {
"x": {"field": "month", "type": "ordinal", "scale": {"type": "point", "padding": 0.4}, "axis": {"values": ["202201","202203","202205","202207","202209","202211","202301","202303","202305","202307","202309","202311","202401","202403","202405","202407"], "title": null, "offset": -80, "labelAngle": -45, "labelAlign": "right", "labelBaseline": "middle", "labelPadding": 3, "ticks": false, "labelFont": "Liberation Serif", "labelFontSize": 9.5, "labelColor": "#222222", "labelOverlap": false, "domainColor": "#808080"}},
"y": {"field": "value", "type": "quantitative", "scale": {"domain": [-100, 100], "nice": false, "zero": false}, "axis": {"values": [-100, -50, 0, 50, 100], "labelExpr": "(datum.value<0?'-':'')+format(abs(datum.value),'.1f')+'%'", "title": null, "tickSize": 3, "labelPadding": 2, "labelFont": "Liberation Serif", "labelFontSize": 10, "labelColor": "#222222", "domainColor": "#808080", "tickColor": "#808080", "grid": false}},
"color": {"field": "company", "type": "nominal", "scale": {"domain": ["中国人寿","中国平安","中国太保","新华保险","中国人保"], "range": ["#1f6cb5","#ff0000","#ffc000","#00b0f0","#a5a5a5"]}, "legend": {"orient": "none", "legendX": 7, "legendY": 155, "direction": "horizontal", "columns": 3, "title": null, "symbolType": "stroke", "symbolSize": 576, "symbolStrokeWidth": 2.5, "clipHeight": 10, "labelFont": "Noto Sans CJK SC", "labelFontSize": 8, "labelColor": "#222222", "labelOffset": 4, "columnPadding": 0, "rowPadding": 8, "padding": 0}}
}
},
{
"width": 248, "height": 72, "data": {"values": [{}]},
"layer": [
{"mark": {"type": "rule", "color": "#808080", "strokeWidth": 1.2}, "encoding": {"x": {"value": -45}, "x2": {"value": 265}, "y": {"value": 36}}},
{"mark": {"type": "text", "text": "数据来源：各公司公告、开源证券研究所", "font": "Noto Sans CJK SC", "fontSize": 10.8, "color": "#333333", "align": "left", "baseline": "middle"}, "encoding": {"x": {"value": -44}, "y": {"value": 46}}}
]
},
{
"width": 244, "height": 72, "data": {"values": [{}]},
"layer": [
{"mark": {"type": "rule", "color": "#808080", "strokeWidth": 1.2}, "encoding": {"x": {"value": -47}, "x2": {"value": 271}, "y": {"value": 36}}},
{"mark": {"type": "text", "text": "数据来源：各公司公告、开源证券研究所", "font": "Noto Sans CJK SC", "fontSize": 10.8, "color": "#333333", "align": "left", "baseline": "middle"}, "encoding": {"x": {"value": -46}, "y": {"value": 46}}}
]
},
{
"width": 246, "height": 37, "data": {"values": [{}]},
"layer": [
{"mark": {"type": "text", "text": "附图 3：2024 年 1-7 月多数险企财险保费增速延续改善", "font": "Liberation Serif, Noto Sans CJK SC", "fontSize": 12.8, "fontWeight": "bold", "color": "#1d2b69", "align": "left", "baseline": "middle"}, "encoding": {"x": {"value": -45}, "y": {"value": 13}}},
{"mark": {"type": "rule", "color": "#7f7f7f", "strokeWidth": 1.5}, "encoding": {"x": {"value": -45}, "x2": {"value": 265}, "y": {"value": 23}}}
]
},
{
"width": 246, "height": 37, "data": {"values": [{}]},
"layer": [
{"mark": {"type": "text", "text": "附图 4：2024 年 7 月上市险企财险保费同比增速分化", "font": "Liberation Serif, Noto Sans CJK SC", "fontSize": 12.8, "fontWeight": "bold", "color": "#1d2b69", "align": "left", "baseline": "middle"}, "encoding": {"x": {"value": -47}, "y": {"value": 13}}},
{"mark": {"type": "rule", "color": "#7f7f7f", "strokeWidth": 1.5}, "encoding": {"x": {"value": -47}, "x2": {"value": 271}, "y": {"value": 23}}}
]
},
{
"width": 246, "height": 144,
"data": {"name": "pc_cum"},
"title": {"text": "累计财险保费同比增速", "anchor": "middle", "frame": "group", "offset": 0, "dx": -15, "dy": 24, "font": "Noto Sans CJK SC", "fontSize": 11.5, "fontWeight": "bold", "color": "#111111"},
"mark": {"type": "line", "strokeWidth": 2},
"encoding": {
"x": {"field": "month", "type": "ordinal", "scale": {"type": "point", "padding": 0.4}, "axis": {"values": ["202201","202203","202205","202207","202209","202211","202301","202303","202305","202307","202309","202311","202401","202403","202405","202407"], "title": null, "offset": -28.8, "labelAngle": -45, "labelAlign": "right", "labelBaseline": "middle", "labelPadding": 3, "ticks": false, "labelFont": "Liberation Serif", "labelFontSize": 9.5, "labelColor": "#222222", "labelOverlap": false, "domainColor": "#808080"}},
"y": {"field": "value", "type": "quantitative", "scale": {"domain": [-10, 40], "nice": false, "zero": false}, "axis": {"values": [-10, 0, 10, 20, 30, 40], "labelExpr": "(datum.value<0?'-':'')+format(abs(datum.value),'.1f')+'%'", "title": null, "tickSize": 3, "labelPadding": 2, "labelFont": "Liberation Serif", "labelFontSize": 10, "labelColor": "#222222", "domainColor": "#808080", "tickColor": "#808080", "grid": false}},
"color": {"field": "company", "type": "nominal", "scale": {"domain": ["平安财险","太保财险","人保财险","太平财险","众安在线"], "range": ["#1f6cb5","#ff0000","#ffc000","#00b0f0","#a5a5a5"]}, "legend": {"orient": "none", "legendX": -23, "legendY": 150, "direction": "horizontal", "columns": 3, "title": null, "symbolType": "stroke", "symbolSize": 625, "symbolStrokeWidth": 2.5, "clipHeight": 10, "labelFont": "Noto Sans CJK SC", "labelFontSize": 8, "labelColor": "#222222", "labelOffset": 4, "columnPadding": 31, "rowPadding": 7, "padding": 0}}
}
},
{
"width": 246, "height": 136,
"data": {"name": "pc_mon"},
"title": {"text": "单月财险保费同比增速", "anchor": "middle", "frame": "group", "offset": 0, "dx": -14, "dy": 19, "font": "Noto Sans CJK SC", "fontSize": 11.5, "fontWeight": "bold", "color": "#111111"},
"mark": {"type": "line", "strokeWidth": 2},
"encoding": {
"x": {"field": "month", "type": "ordinal", "scale": {"type": "point", "padding": 0.4}, "axis": {"values": ["202201","202203","202205","202207","202209","202211","202301","202303","202305","202307","202309","202311","202401","202403","202405","202407"], "title": null, "offset": -22.7, "labelAngle": -45, "labelAlign": "right", "labelBaseline": "middle", "labelPadding": 3, "ticks": false, "labelFont": "Liberation Serif", "labelFontSize": 9.5, "labelColor": "#222222", "labelOverlap": false, "domainColor": "#808080"}},
"y": {"field": "value", "type": "quantitative", "scale": {"domain": [-20, 100], "nice": false, "zero": false}, "axis": {"values": [-20, 0, 20, 40, 60, 80, 100], "labelExpr": "(datum.value<0?'-':'')+format(abs(datum.value),'.1f')+'%'", "title": null, "tickSize": 3, "labelPadding": 2, "labelFont": "Liberation Serif", "labelFontSize": 10, "labelColor": "#222222", "domainColor": "#808080", "tickColor": "#808080", "grid": false}},
"color": {"field": "company", "type": "nominal", "scale": {"domain": ["平安财险","太保财险","人保财险","太平财险","众安在线"], "range": ["#1f6cb5","#ff0000","#ffc000","#00b0f0","#4472c4"]}, "legend": {"orient": "none", "legendX": 8, "legendY": 156, "direction": "horizontal", "columns": 3, "title": null, "symbolType": "stroke", "symbolSize": 576, "symbolStrokeWidth": 2.5, "clipHeight": 10, "labelFont": "Noto Sans CJK SC", "labelFontSize": 8, "labelColor": "#222222", "labelOffset": 4, "columnPadding": 0, "rowPadding": 8, "padding": 0}}
}
},
{
"width": 246, "height": 89, "data": {"values": [{}]},
"layer": [
{"mark": {"type": "rule", "color": "#808080", "strokeWidth": 1.2}, "encoding": {"x": {"value": -45}, "x2": {"value": 265}, "y": {"value": 52}}},
{"mark": {"type": "text", "text": "数据来源：各公司公告、开源证券研究所", "font": "Noto Sans CJK SC", "fontSize": 10.8, "color": "#333333", "align": "left", "baseline": "middle"}, "encoding": {"x": {"value": -44}, "y": {"value": 62}}}
]
},
{
"width": 246, "height": 89, "data": {"values": [{}]},
"layer": [
{"mark": {"type": "rule", "color": "#808080", "strokeWidth": 1.2}, "encoding": {"x": {"value": -47}, "x2": {"value": 271}, "y": {"value": 52}}},
{"mark": {"type": "text", "text": "数据来源：各公司公告、开源证券研究所", "font": "Noto Sans CJK SC", "fontSize": 10.8, "color": "#333333", "align": "left", "baseline": "middle"}, "encoding": {"x": {"value": -46}, "y": {"value": 62}}}
]
},
{
"width": 248, "height": 69, "data": {"values": [{}]},
"layer": [
{"mark": {"type": "text", "text": "附图 5：2024 年 8 月 16 日，10 年期国债收益率至 2.20%", "font": "Liberation Serif, Noto Sans CJK SC", "fontSize": 12.8, "fontWeight": "bold", "color": "#1d2b69", "align": "left", "baseline": "middle"}, "encoding": {"x": {"value": 126}, "y": {"value": 15}}},
{"mark": {"type": "rule", "color": "#7f7f7f", "strokeWidth": 1.5}, "encoding": {"x": {"value": 124}, "x2": {"value": 593}, "y": {"value": 25}}}
]
},
{"width": 10, "height": 10, "data": {"values": []}, "mark": "point"},
{
"width": 248, "height": 89,
"data": {"name": "bond"},
"title": {"text": "10年期国债收益率（%）", "anchor": "middle", "frame": "group", "offset": 12, "dx": 229, "font": "Liberation Serif, Noto Sans CJK SC", "fontSize": 10.5, "fontWeight": "bold", "color": "#111111"},
"mark": {"type": "line"},
"encoding": {
"x": {"field": "date", "type": "temporal", "scale": {"type": "utc", "range": [168, 570], "domain": [{"year": 2018, "month": 1, "date": 12, "utc": true}, {"year": 2024, "month": 8, "date": 16, "utc": true}]}, "axis": {"values": [{"year": 2018, "month": 1, "date": 12, "utc": true}, {"year": 2019, "month": 1, "date": 12, "utc": true}, {"year": 2020, "month": 1, "date": 12, "utc": true}, {"year": 2021, "month": 1, "date": 12, "utc": true}, {"year": 2022, "month": 1, "date": 12, "utc": true}, {"year": 2023, "month": 1, "date": 12, "utc": true}, {"year": 2024, "month": 1, "date": 12, "utc": true}], "format": "%Y-%m-%d", "title": null, "labelFlush": false, "labelOverlap": false, "tickSize": 4, "labelPadding": 2, "labelFont": "Liberation Serif", "labelFontSize": 9.5, "labelColor": "#222222", "domainColor": "#808080", "tickColor": "#808080", "grid": false}},
"y": {"field": "value", "type": "quantitative", "scale": {"domain": [2, 5], "nice": false, "zero": false}, "axis": {"values": [2, 2.5, 3, 3.5, 4, 4.5, 5], "format": ".1f", "title": null, "offset": -168, "tickSize": 3, "labelPadding": 2, "labelFont": "Liberation Serif", "labelFontSize": 9.5, "labelColor": "#222222", "domainColor": "#808080", "tickColor": "#808080", "grid": false}},
"color": {"field": "series", "type": "nominal", "scale": {"domain": ["10年期国债收益率", "750天均线"], "range": ["#2479cc", "#ff0000"]}, "legend": {"orient": "none", "legendX": 258, "legendY": 119, "direction": "horizontal", "title": null, "symbolType": "stroke", "symbolSize": 729, "symbolStrokeWidth": 2.5, "clipHeight": 10, "labelFont": "Liberation Serif, Noto Sans CJK SC", "labelFontSize": 10.5, "labelColor": "#222222", "labelOffset": 3, "columnPadding": 8, "padding": 0}},
"strokeWidth": {"field": "series", "type": "nominal", "scale": {"domain": ["10年期国债收益率", "750天均线"], "range": [1.8, 2.5]}, "legend": null}
}
},
{"width": 10, "height": 10, "data": {"values": []}, "mark": "point"},
{
"width": 248, "height": 172, "data": {"values": [{}]},
"layer": [
{"mark": {"type": "rule", "color": "#555555", "strokeWidth": 1.2}, "encoding": {"x": {"value": 124}, "x2": {"value": 593}, "y": {"value": 57}}},
{"mark": {"type": "text", "text": "数据来源：Wind、开源证券研究所", "font": "Liberation Serif, Noto Sans CJK SC", "fontSize": 10.8, "color": "#333333", "align": "left", "baseline": "middle"}, "encoding": {"x": {"value": 125}, "y": {"value": 68}}}
]
},
{"width": 10, "height": 10, "data": {"values": []}, "mark": "point"},
{
"width": 248, "height": 45, "data": {"values": [{}]},
"layer": [
{"mark": {"type": "rule", "color": "#555555", "strokeWidth": 1.5}, "encoding": {"x": {"value": -45}, "x2": {"value": 600}, "y": {"value": 0}}},
{"mark": {"type": "text", "text": "请务必参阅正文后面的信息披露和法律声明", "font": "Noto Sans CJK SC", "fontSize": 12, "color": "#222222", "align": "left", "baseline": "middle"}, "encoding": {"x": {"value": -45}, "y": {"value": 11}}},
{"mark": {"type": "text", "text": "2 / 6", "font": "Liberation Serif", "fontSize": 12, "color": "#222222", "align": "right", "baseline": "middle"}, "encoding": {"x": {"value": 600}, "y": {"value": 11}}}
]
},
{"width": 10, "height": 10, "data": {"values": []}, "mark": "point"}
]
}
